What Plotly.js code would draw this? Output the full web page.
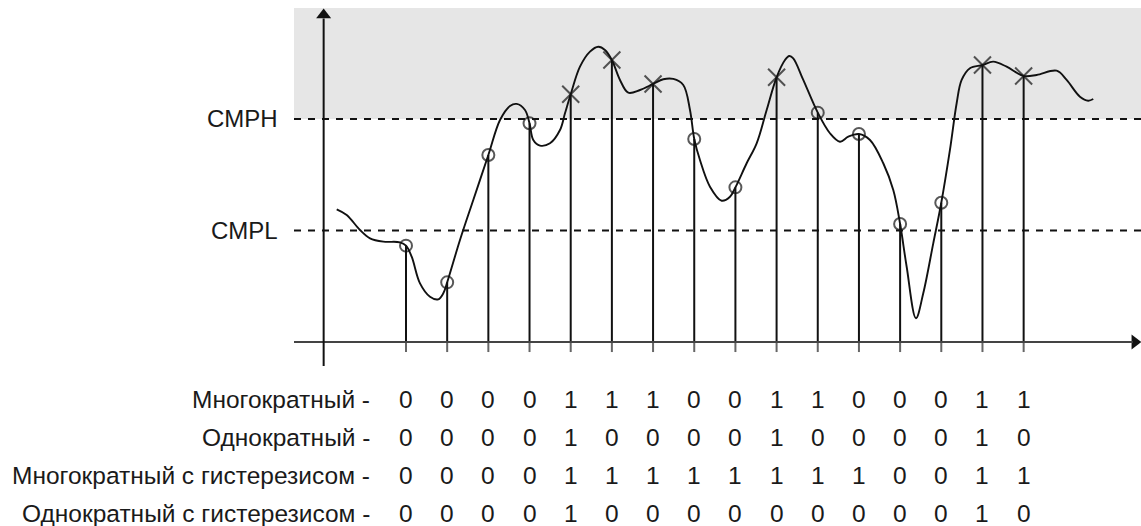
<!DOCTYPE html>
<html>
<head>
<meta charset="utf-8">
<script src="https://cdn.plot.ly/plotly-3.0.1.min.js"></script>
<style>html,body{margin:0;padding:0;background:#fff;}#chart{width:1141px;height:526px;}</style>
</head>
<body>
<div id="chart"></div>
<script>
// Thresholds
const cmph = 2.0;
const cmpl = 1.0;
const thresholdLabels = ["CMPH", "CMPL"];

// Sample instants and sampled values
const sampleX = [1, 2, 3, 4, 5, 6, 7, 8, 9, 10, 11, 12, 13, 14, 15, 16];
const sampleY = [0.864, 0.535, 1.677, 1.961, 2.222, 2.529, 2.314, 1.821, 1.387, 2.374, 2.057, 1.865, 1.058, 1.249, 2.484, 2.386];
// Marker drawn at each sample (o = circle, x = cross), as in the figure
const sampleMark = ["o", "o", "o", "o", "x", "x", "x", "o", "o", "x", "o", "o", "o", "o", "x", "x"];

// Continuous signal (traced)
const curveX = [-0.683, -0.440, -0.117, 0.126, 0.449, 0.854, 1.0, 1.138, 1.340, 1.583, 1.784, 1.906, 2.0,
  2.311, 2.634, 3.0, 3.283, 3.526, 3.688, 3.890, 4.0, 4.091, 4.254, 4.497, 4.740, 4.861, 5.0,
  5.225, 5.468, 5.670, 5.832, 6.0, 6.197, 6.398, 6.683, 7.0, 7.248, 7.491, 7.734, 7.897, 8.0,
  8.139, 8.382, 8.666, 8.868, 9.0, 9.273, 9.516, 9.759, 10.0, 10.204, 10.308, 10.405, 10.648, 11.0,
  11.296, 11.539, 11.741, 12.0, 12.268, 12.591, 12.834, 13.0, 13.159, 13.385, 13.562, 13.805, 14.0,
  14.210, 14.373, 14.494, 14.696, 15.0, 15.261, 15.587, 16.0, 16.316, 16.801, 17.044, 17.367, 17.568, 17.690];
const curveY = [1.190, 1.139, 1.004, 0.930, 0.900, 0.894, 0.864, 0.765, 0.526, 0.406, 0.383, 0.437, 0.535,
  0.915, 1.274, 1.677, 1.991, 2.117, 2.135, 2.081, 1.961, 1.812, 1.761, 1.782, 1.901, 2.051, 2.222,
  2.469, 2.604, 2.648, 2.619, 2.529, 2.350, 2.236, 2.260, 2.314, 2.356, 2.359, 2.305, 2.081, 1.821,
  1.632, 1.393, 1.267, 1.303, 1.387, 1.603, 1.782, 2.081, 2.374, 2.529, 2.565, 2.544, 2.350, 2.057,
  1.872, 1.796, 1.841, 1.865, 1.812, 1.603, 1.363, 1.058, 0.675, 0.213, 0.437, 0.885, 1.249,
  1.722, 2.141, 2.350, 2.455, 2.484, 2.514, 2.469, 2.386, 2.395, 2.433, 2.350, 2.200, 2.164, 2.179];

// Comparison result table
const rowLabels = ["Многократный -", "Однократный -", "Многократный с гистерезисом -", "Однократный с гистерезисом -"];
const rowMulti = [0, 0, 0, 0, 1, 1, 1, 0, 0, 1, 1, 0, 0, 0, 1, 1];
const rowSingle = [0, 0, 0, 0, 1, 0, 0, 0, 0, 1, 0, 0, 0, 0, 1, 0];
const rowMultiHyst = [0, 0, 0, 0, 1, 1, 1, 1, 1, 1, 1, 1, 0, 0, 1, 1];
const rowSingleHyst = [0, 0, 0, 0, 1, 0, 0, 0, 0, 0, 0, 0, 0, 0, 1, 0];
const rows = [rowMulti, rowSingle, rowMultiHyst, rowSingleHyst];

// ---- layout geometry (not data) ----
const xRange = [-8.86, 18.85];
const yRange = [-1.65, 3.067];
const leftEdge = -1.72;
const yAxisX = -1.0;
const shadeTop = 2.996;
const stemBottom = -0.09;
const yAxisBottom = -0.215;
const labelX = -2.06;
const rowLabelX = 0.17;
const firstRowY = -0.515;
const rowStep = 0.341;
const fontFam = '"Liberation Sans", Arial, sans-serif';
const textColor = '#1a1a1a';
const tableFont = 24.5;

const stemX = [], stemY = [], tickX = [], tickY = [];
sampleX.forEach((x, i) => {
  stemX.push(x, x, null); stemY.push(0, sampleY[i], null);
  tickX.push(x, x, null); tickY.push(stemBottom, 0, null);
});

const symbols = sampleMark.map(m => m === 'x' ? 'x-thin-open' : 'circle-open');
const sizes = sampleMark.map(m => m === 'x' ? 17 : 12);

const traces = [
  {x: tickX, y: tickY, mode: 'lines', line: {color: '#666', width: 2}, hoverinfo: 'skip', showlegend: false},
  {x: stemX, y: stemY, mode: 'lines', line: {color: '#111', width: 2}, hoverinfo: 'skip', showlegend: false},
  {x: curveX, y: curveY, mode: 'lines', line: {color: '#111', width: 1.9, shape: 'spline', smoothing: 1}, hoverinfo: 'skip', showlegend: false},
  {x: sampleX, y: sampleY, mode: 'markers', marker: {symbol: symbols, size: sizes, color: '#111', line: {color: '#111', width: 2}}, hoverinfo: 'skip', showlegend: false},
  {x: [yAxisX], y: [2.933], mode: 'markers', marker: {symbol: 'triangle-up', size: 13, color: '#111'}, hoverinfo: 'skip', showlegend: false},
  {x: [18.70], y: [0], mode: 'markers', marker: {symbol: 'triangle-right', size: 13, color: '#111'}, hoverinfo: 'skip', showlegend: false}
];

const shapes = [
  {type: 'rect', xref: 'x', yref: 'y', x0: leftEdge, x1: xRange[1], y0: cmph, y1: shadeTop, fillcolor: '#e6e6e6', line: {width: 0}, layer: 'below'},
  {type: 'line', xref: 'x', yref: 'y', x0: leftEdge, x1: xRange[1], y0: cmph, y1: cmph, line: {color: '#111', width: 2, dash: '7px,7px'}},
  {type: 'line', xref: 'x', yref: 'y', x0: leftEdge, x1: xRange[1], y0: cmpl, y1: cmpl, line: {color: '#111', width: 2, dash: '7px,7px'}},
  {type: 'line', xref: 'x', yref: 'y', x0: leftEdge, x1: 18.65, y0: 0, y1: 0, line: {color: '#444', width: 2}},
  {type: 'line', xref: 'x', yref: 'y', x0: yAxisX, x1: yAxisX, y0: yAxisBottom, y1: 2.9, line: {color: '#111', width: 2}}
];

const annotations = [];
[cmph, cmpl].forEach((v, i) => {
  annotations.push({x: labelX, y: v, xref: 'x', yref: 'y', text: thresholdLabels[i], showarrow: false,
    xanchor: 'right', yanchor: 'middle', font: {family: fontFam, size: 24, color: textColor}});
});
rows.forEach((row, r) => {
  const yy = firstRowY - r * rowStep;
  annotations.push({x: rowLabelX, y: yy, xref: 'x', yref: 'y', text: rowLabels[r], showarrow: false,
    xanchor: 'right', yanchor: 'middle', font: {family: fontFam, size: tableFont, color: textColor}});
  row.forEach((v, i) => {
    annotations.push({x: sampleX[i], y: yy, xref: 'x', yref: 'y', text: String(v), showarrow: false,
      xanchor: 'center', yanchor: 'middle', font: {family: fontFam, size: tableFont, color: textColor}});
  });
});

const layout = {
  width: 1141, height: 526,
  margin: {l: 0, r: 0, t: 0, b: 0, pad: 0},
  paper_bgcolor: '#fff', plot_bgcolor: '#fff',
  showlegend: false,
  xaxis: {range: xRange, visible: false, fixedrange: true},
  yaxis: {range: yRange, visible: false, fixedrange: true},
  shapes: shapes,
  annotations: annotations
};

Plotly.newPlot('chart', traces, layout, {staticPlot: true, displayModeBar: false});
</script>
</body>
</html>
